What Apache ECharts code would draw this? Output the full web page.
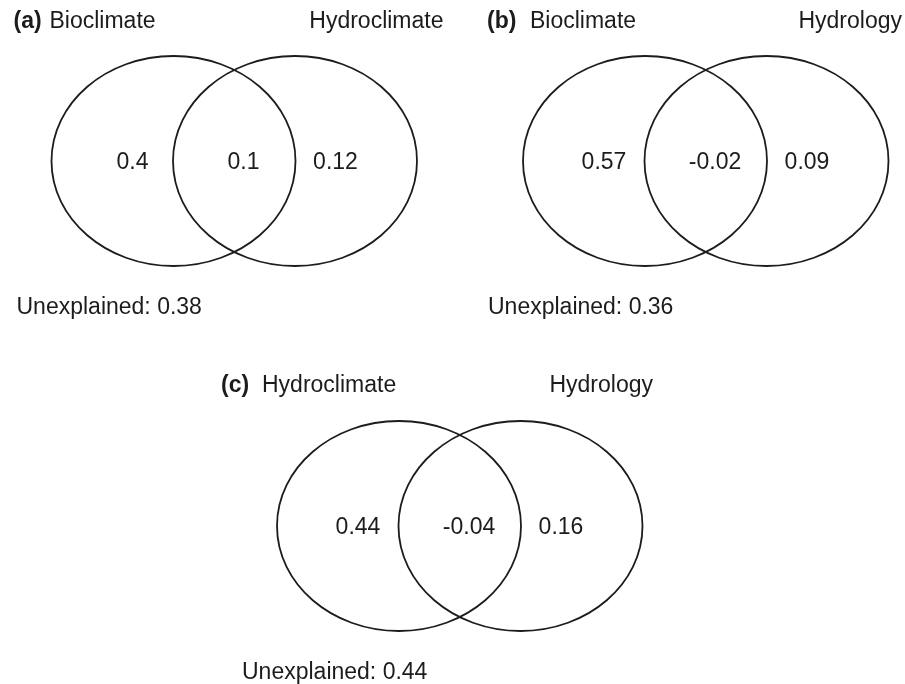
<!DOCTYPE html>
<html>
<head>
<meta charset="utf-8">
<script src="https://cdn.jsdelivr.net/npm/echarts@6/dist/echarts.min.js"></script>
<style>
  html, body { margin: 0; padding: 0; background: #fff; }
  #venn { width: 905px; height: 684px; }
</style>
</head>
<body>
<div id="venn"></div>
<script>
// variance partitioning results, one entry per panel
var panelTags = ['(a)', '(b)', '(c)']
var leftSets = ['Bioclimate', 'Bioclimate', 'Hydroclimate']
var rightSets = ['Hydroclimate', 'Hydrology', 'Hydrology']
var leftOnly = [0.4, 0.57, 0.44]
var shared = [0.1, -0.02, -0.04]
var rightOnly = [0.12, 0.09, 0.16]
var unexplained = [0.38, 0.36, 0.44]

// layout (in plot units, 1 unit = 1 px): centre of the left ellipse for each panel
var panelCenter = [[173.5, 161], [645, 161], [399, 526]]
var tagOffset = [-160, -158, -178]
var leftNameOffset = [-124, -115, -137]
var rightNameEnd = [270, 257, 254]
var titleDy = [-139, -139, -140]
var ellipseGap = 121.5
var rx = 122
var ry = 105

var font = '"Liberation Sans", Arial, sans-serif'
var ink = '#1c1c1c'

var chart = echarts.init(document.getElementById('venn'))

function txt (x, y, text, align, bold) {
  return {
    type: 'text',
    silent: true,
    style: {
      x: x,
      y: y,
      text: text,
      fill: ink,
      font: (bold ? 'bold ' : '') + '23px ' + font,
      align: align,
      verticalAlign: 'middle'
    }
  }
}

function renderPanel (params, api) {
  var i = api.value(2)
  var c = api.coord([api.value(0), api.value(1)])
  var s = api.size([1, 1])
  var u = s[0], v = s[1]
  var tagX = c[0] + tagOffset[i] * u
  var ty = c[1] + titleDy[i] * v
  var children = [
    {
      type: 'ellipse',
      shape: { cx: c[0], cy: c[1], rx: rx * u, ry: ry * v },
      style: { fill: 'none', stroke: ink, lineWidth: 1.8 }
    },
    {
      type: 'ellipse',
      shape: { cx: c[0] + ellipseGap * u, cy: c[1], rx: rx * u, ry: ry * v },
      style: { fill: 'none', stroke: ink, lineWidth: 1.8 }
    },
    txt(tagX, ty, panelTags[i], 'left', true),
    txt(c[0] + leftNameOffset[i] * u, ty, leftSets[i], 'left'),
    txt(c[0] + rightNameEnd[i] * u, ty, rightSets[i], 'right'),
    txt(c[0] - 41 * u, c[1] + 2 * v, String(leftOnly[i]), 'center'),
    txt(c[0] + 70 * u, c[1] + 2 * v, String(shared[i]), 'center'),
    txt(c[0] + 162 * u, c[1] + 2 * v, String(rightOnly[i]), 'center'),
    txt(c[0] - 157 * u, c[1] + 147 * v, 'Unexplained: ' + unexplained[i], 'left')
  ]
  return { type: 'group', children: children }
}

var option = {
  backgroundColor: '#fff',
  animation: false,
  grid: { left: 0, right: 0, top: 0, bottom: 0 },
  xAxis: { type: 'value', min: 0, max: 905, show: false },
  yAxis: { type: 'value', min: 0, max: 684, inverse: true, show: false },
  series: [{
    type: 'custom',
    coordinateSystem: 'cartesian2d',
    renderItem: renderPanel,
    encode: { x: 0, y: 1 },
    data: panelTags.map(function (t, i) {
      return [panelCenter[i][0], panelCenter[i][1], i]
    })
  }]
}

chart.setOption(option)
</script>
</body>
</html>
